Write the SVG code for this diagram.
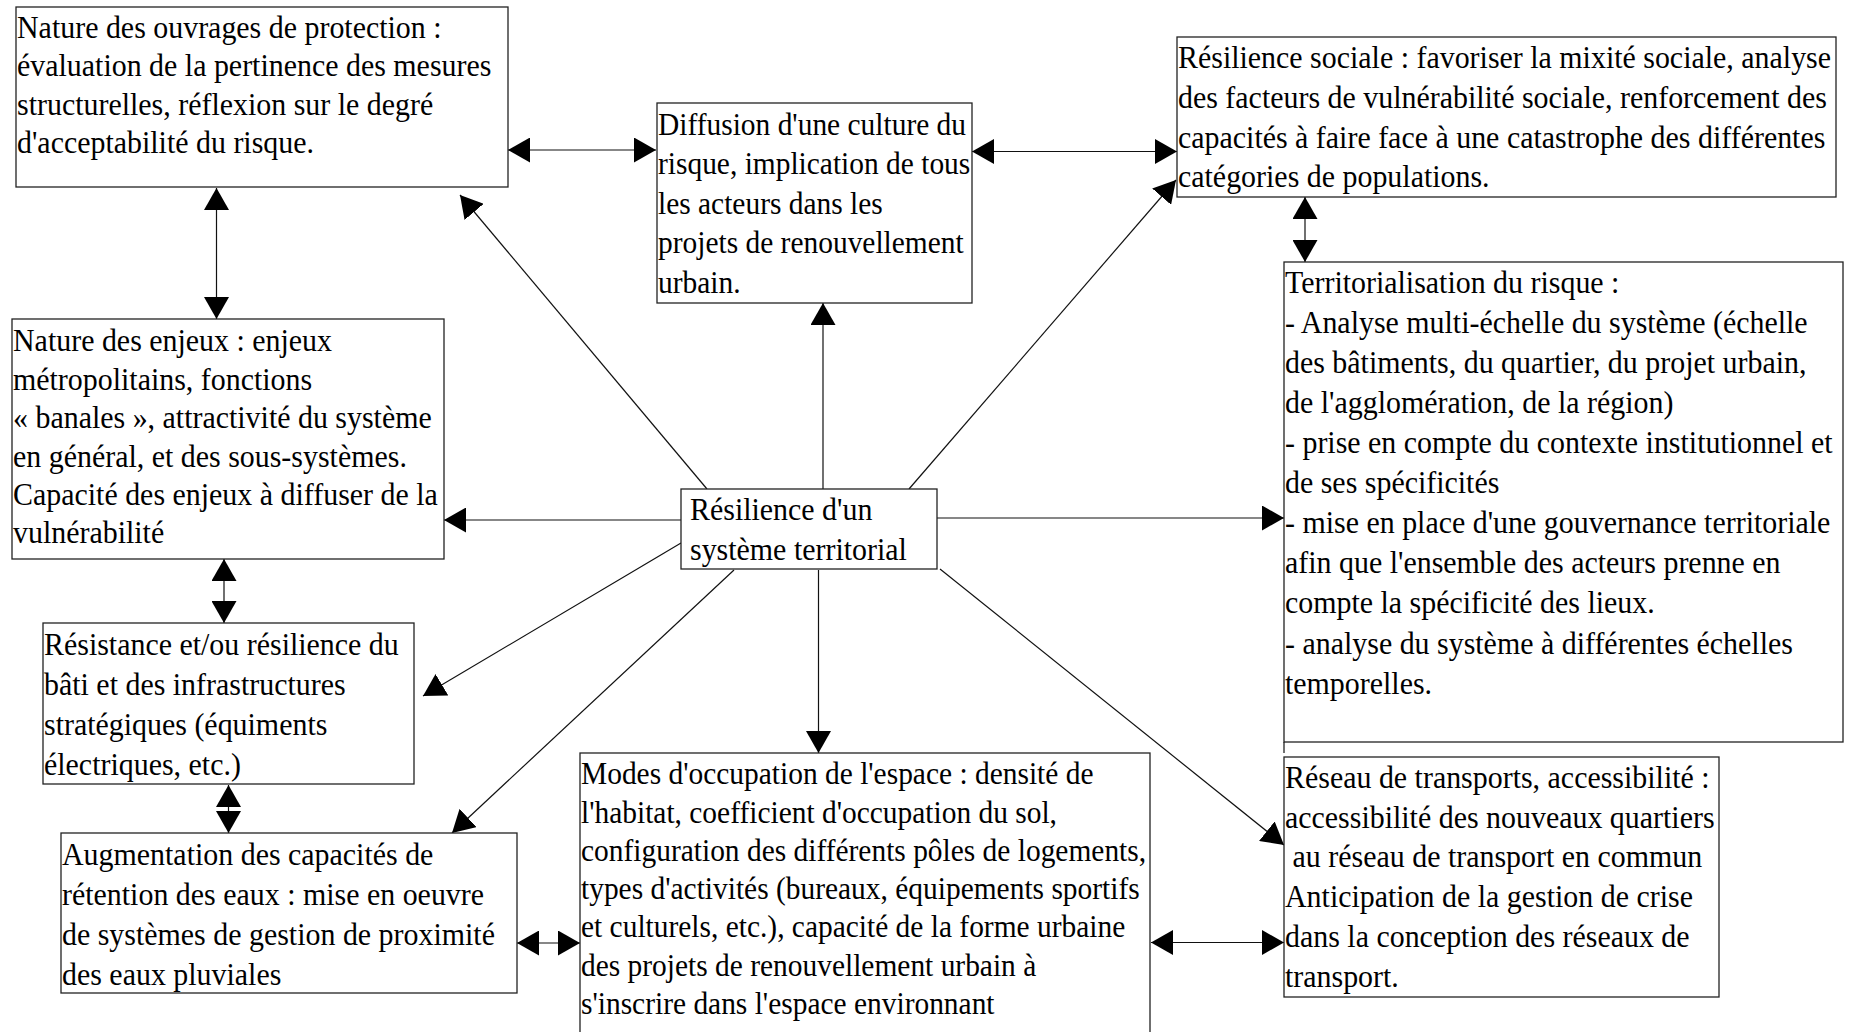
<svg xmlns="http://www.w3.org/2000/svg" width="1854" height="1032" viewBox="0 0 1854 1032">
<style>
.box{fill:#fff;stroke:#222;stroke-width:1.3}
.t{font-family:"Liberation Serif","Times New Roman",serif;font-size:31.5px;fill:#000}
.s{font-size:31px}
.c{fill:none;stroke:#111;stroke-width:1.2}
</style>
<defs>
<marker id="ah" markerUnits="userSpaceOnUse" markerWidth="22" markerHeight="25" refX="22" refY="12.5" orient="auto-start-reverse" viewBox="0 0 22 25">
<path d="M0,0 L22,12.5 L0,25 z" fill="#000"/>
</marker>
</defs>
<rect width="1854" height="1032" fill="#fff"/>

<g id="connectors">
<line class="c" x1="508" y1="150" x2="656" y2="150" marker-start="url(#ah)" marker-end="url(#ah)"/>
<line class="c" x1="972" y1="151.5" x2="1177" y2="151.5" marker-start="url(#ah)" marker-end="url(#ah)"/>
<line class="c" x1="216.5" y1="188" x2="216.5" y2="319" marker-start="url(#ah)" marker-end="url(#ah)"/>
<line class="c" x1="224" y1="559" x2="224" y2="623" marker-start="url(#ah)" marker-end="url(#ah)"/>
<line class="c" x1="228.5" y1="785" x2="228.5" y2="833" marker-start="url(#ah)" marker-end="url(#ah)"/>
<line class="c" x1="517" y1="943" x2="580" y2="943" marker-start="url(#ah)" marker-end="url(#ah)"/>
<line class="c" x1="1151" y1="942.5" x2="1284" y2="942.5" marker-start="url(#ah)" marker-end="url(#ah)"/>
<line class="c" x1="1305" y1="197" x2="1305" y2="262" marker-start="url(#ah)" marker-end="url(#ah)"/>
<line class="c" x1="823" y1="489" x2="823" y2="303" marker-end="url(#ah)"/>
<line class="c" x1="707" y1="489" x2="460" y2="195" marker-end="url(#ah)"/>
<line class="c" x1="909" y1="489" x2="1176" y2="180" marker-end="url(#ah)"/>
<line class="c" x1="681" y1="520" x2="444" y2="520" marker-end="url(#ah)"/>
<line class="c" x1="937" y1="518" x2="1284" y2="518" marker-end="url(#ah)"/>
<line class="c" x1="681" y1="543" x2="423" y2="696" marker-end="url(#ah)"/>
<line class="c" x1="734" y1="570" x2="452" y2="833" marker-end="url(#ah)"/>
<line class="c" x1="818.5" y1="570" x2="818.5" y2="753" marker-end="url(#ah)"/>
<line class="c" x1="940" y1="569" x2="1284" y2="845" marker-end="url(#ah)"/>
</g>

<g id="n-ouvrages">
<rect class="box" x="16" y="7" width="492" height="180"/>
<text class="t" transform="translate(17,0) scale(0.95,1)"><tspan x="0" y="38">Nature des ouvrages de protection :</tspan><tspan x="0" y="76.5">évaluation de la pertinence des mesures</tspan><tspan x="0" y="115">structurelles, réflexion sur le degré</tspan><tspan x="0" y="153">d'acceptabilité du risque.</tspan></text>
</g>

<g id="n-diffusion">
<rect class="box" x="657" y="103" width="315" height="200"/>
<text class="t s" transform="translate(658,0) scale(0.95,1)"><tspan x="0" y="135">Diffusion d'une culture du</tspan><tspan x="0" y="174.5">risque, implication de tous</tspan><tspan x="0" y="214">les acteurs dans les</tspan><tspan x="0" y="253.5">projets de renouvellement</tspan><tspan x="0" y="293">urbain.</tspan></text>
</g>

<g id="n-sociale">
<rect class="box" x="1177" y="37" width="659" height="160"/>
<text class="t" transform="translate(1178,0) scale(0.95,1)"><tspan x="0" y="68">Résilience sociale : favoriser la mixité sociale, analyse</tspan><tspan x="0" y="108">des facteurs de vulnérabilité sociale, renforcement des</tspan><tspan x="0" y="148">capacités à faire face à une catastrophe des différentes</tspan><tspan x="0" y="187">catégories de populations.</tspan></text>
</g>

<g id="n-territorialisation">
<rect class="box" x="1284" y="262" width="559" height="480"/>
<line class="c" x1="1284" y1="742" x2="1284" y2="753"/>
<text class="t" transform="translate(1285,0) scale(0.95,1)"><tspan x="0" y="293">Territorialisation du risque :</tspan><tspan x="0" y="333">- Analyse multi-échelle du système (échelle</tspan><tspan x="0" y="373">des bâtiments, du quartier, du projet urbain,</tspan><tspan x="0" y="413">de l'agglomération, de la région)</tspan><tspan x="0" y="453">- prise en compte du contexte institutionnel et</tspan><tspan x="0" y="493">de ses spécificités</tspan><tspan x="0" y="533">- mise en place d'une gouvernance territoriale</tspan><tspan x="0" y="573">afin que l'ensemble des acteurs prenne en</tspan><tspan x="0" y="613">compte la spécificité des lieux.</tspan><tspan x="0" y="654">- analyse du système à différentes échelles</tspan><tspan x="0" y="694">temporelles.</tspan></text>
</g>

<g id="n-enjeux">
<rect class="box" x="12" y="319" width="432" height="240"/>
<text class="t" transform="translate(13,0) scale(0.95,1)"><tspan x="0" y="351.5">Nature des enjeux : enjeux</tspan><tspan x="0" y="390">métropolitains, fonctions</tspan><tspan x="0" y="428.5">« banales », attractivité du système</tspan><tspan x="0" y="467">en général, et des sous-systèmes.</tspan><tspan x="0" y="505">Capacité des enjeux à diffuser de la</tspan><tspan x="0" y="543.5">vulnérabilité</tspan></text>
</g>

<g id="n-centre">
<rect class="box" x="681" y="489" width="256" height="80"/>
<text class="t" transform="translate(690,0) scale(0.95,1)"><tspan x="0" y="520">Résilience d'un</tspan><tspan x="0" y="560">système territorial</tspan></text>
</g>

<g id="n-resistance">
<rect class="box" x="43" y="623" width="371" height="161"/>
<text class="t" transform="translate(44,0) scale(0.95,1)"><tspan x="0" y="655">Résistance et/ou résilience du</tspan><tspan x="0" y="695">bâti et des infrastructures</tspan><tspan x="0" y="735">stratégiques (équiments</tspan><tspan x="0" y="775">électriques, etc.)</tspan></text>
</g>

<g id="n-augmentation">
<rect class="box" x="61" y="833" width="456" height="160"/>
<text class="t" transform="translate(62,0) scale(0.95,1)"><tspan x="0" y="865">Augmentation des capacités de</tspan><tspan x="0" y="905">rétention des eaux : mise en oeuvre</tspan><tspan x="0" y="945">de systèmes de gestion de proximité</tspan><tspan x="0" y="985">des eaux pluviales</tspan></text>
</g>

<g id="n-modes">
<rect class="box" x="580" y="753" width="570" height="290"/>
<text class="t s" transform="translate(581,0) scale(0.95,1)"><tspan x="0" y="784.5">Modes d'occupation de l'espace : densité de</tspan><tspan x="0" y="823">l'habitat, coefficient d'occupation du sol,</tspan><tspan x="0" y="861">configuration des différents pôles de logements,</tspan><tspan x="0" y="899.5">types d'activités (bureaux, équipements sportifs</tspan><tspan x="0" y="937.5">et culturels, etc.), capacité de la forme urbaine</tspan><tspan x="0" y="976">des projets de renouvellement urbain à</tspan><tspan x="0" y="1014">s'inscrire dans l'espace environnant</tspan></text>
</g>

<g id="n-reseau">
<rect class="box" x="1284" y="757" width="435" height="240"/>
<text class="t" transform="translate(1285,0) scale(0.95,1)"><tspan x="0" y="788">Réseau de transports, accessibilité :</tspan><tspan x="0" y="828">accessibilité des nouveaux quartiers</tspan><tspan x="8" y="867">au réseau de transport en commun</tspan><tspan x="0" y="907">Anticipation de la gestion de crise</tspan><tspan x="0" y="947">dans la conception des réseaux de</tspan><tspan x="0" y="987">transport.</tspan></text>
</g>
</svg>
